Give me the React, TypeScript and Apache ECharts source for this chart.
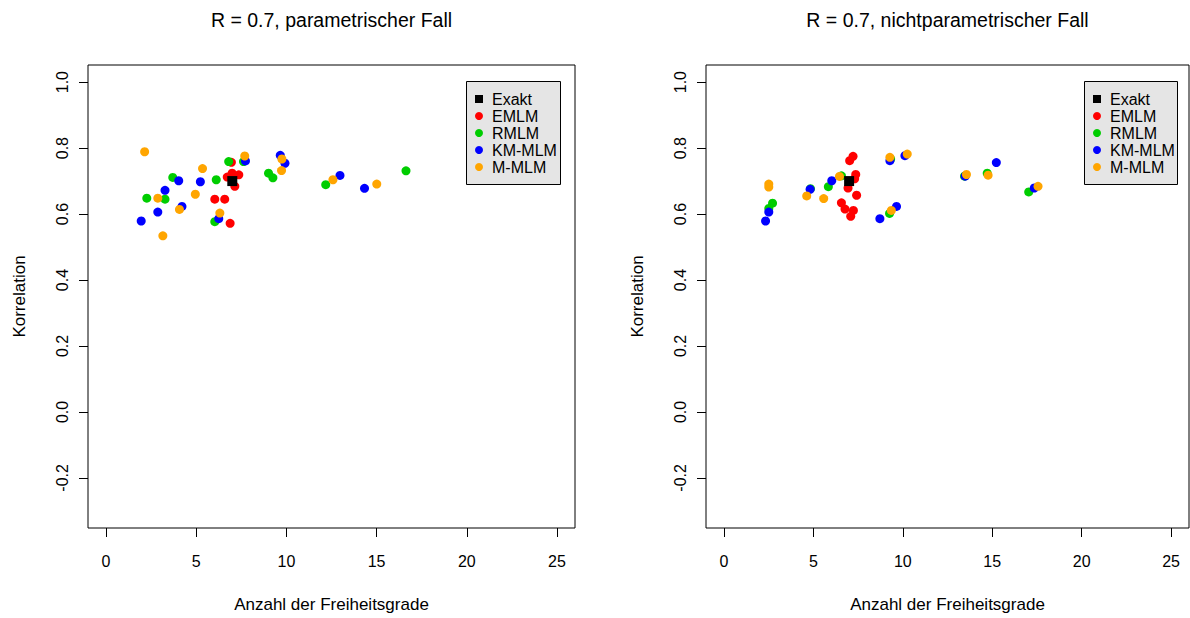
import React, { useEffect, useRef } from "react";
import * as echarts from "echarts";

// Methods and their colours (legend order)
const methodNames = ["Exakt", "EMLM", "RMLM", "KM-MLM", "M-MLM"];
const methodColors = ["#000000", "#FF0000", "#00CD00", "#0000FF", "#FFA500"];

const panelTitles = [
  "R = 0.7, parametrischer Fall",
  "R = 0.7, nichtparametrischer Fall",
];
const xTicks = [0, 5, 10, 15, 20, 25];
const yTicks = [-0.2, 0, 0.2, 0.4, 0.6, 0.8, 1.0];
const xLabel = "Anzahl der Freiheitsgrade";
const yLabel = "Korrelation";

// Exact reference point (degrees of freedom, correlation)
const exaktPoint = [[7, 0.7]];

// Parametric case: [degrees of freedom, correlation]
const paramEMLM = [
  [6.95, 0.757], [6.72, 0.712], [6.99, 0.724], [7.36, 0.719],
  [7.14, 0.684], [6.03, 0.645], [6.58, 0.645], [6.88, 0.572],
];
const paramRMLM = [
  [6.8, 0.759], [7.62, 0.759], [3.7, 0.711], [6.11, 0.704],
  [9.01, 0.724], [9.25, 0.71], [2.26, 0.648], [3.27, 0.645],
  [6.03, 0.577], [12.18, 0.689], [16.63, 0.731],
];
const paramKMMLM = [
  [7.73, 0.761], [4.03, 0.701], [5.23, 0.698], [3.27, 0.672],
  [4.21, 0.623], [2.87, 0.606], [6.25, 0.586], [1.95, 0.579],
  [9.66, 0.778], [9.92, 0.754], [12.97, 0.717], [14.33, 0.678],
];
const paramMMLM = [
  [2.14, 0.789], [7.69, 0.776], [5.35, 0.738], [2.87, 0.648],
  [4.95, 0.66], [4.07, 0.614], [6.31, 0.603], [3.15, 0.534],
  [9.75, 0.767], [9.73, 0.732], [12.58, 0.704], [15.01, 0.691],
];

// Nonparametric case: [degrees of freedom, correlation]
const nonparEMLM = [
  [7.22, 0.775], [7.03, 0.762], [7.37, 0.72], [7.31, 0.707],
  [6.94, 0.679], [7.42, 0.657], [6.57, 0.634], [6.77, 0.615],
  [7.24, 0.611], [7.09, 0.593],
];
const nonparRMLM = [
  [2.72, 0.633], [2.51, 0.617], [4.84, 0.677], [5.84, 0.683],
  [6.57, 0.716], [9.32, 0.767], [9.26, 0.602], [13.45, 0.715],
  [14.72, 0.724], [17.04, 0.667],
];
const nonparKMMLM = [
  [2.51, 0.606], [2.33, 0.579], [4.82, 0.675], [6.03, 0.701],
  [9.28, 0.762], [10.12, 0.777], [9.65, 0.623], [8.72, 0.586],
  [13.49, 0.715], [15.23, 0.756], [17.35, 0.679],
];
const nonparMMLM = [
  [2.51, 0.691], [2.51, 0.682], [4.63, 0.655], [5.58, 0.647],
  [6.46, 0.714], [9.28, 0.772], [10.25, 0.782], [9.36, 0.611],
  [13.56, 0.72], [14.77, 0.718], [17.56, 0.684],
];

const panelSeries = [
  [paramEMLM, paramRMLM, paramKMMLM, paramMMLM],
  [nonparEMLM, nonparRMLM, nonparKMMLM, nonparMMLM],
];

const FONT = "'Liberation Sans', Arial, Helvetica, sans-serif";

// Panel geometry
const panelLeft = [88, 706];
const panelWidth = [487, 483];
const panelTop = 65;
const panelHeight = 464;
const xRange = [-1, 26];
const yRange = [-0.352, 1.052];

const legendBoxes = [
  { x: 466, y: 81, w: 94, h: 103 },
  { x: 1084, y: 81, w: 93, h: 103 },
];

function buildLegend(box: { x: number; y: number; w: number; h: number }) {
  const children: any[] = [
    {
      type: "rect",
      shape: { x: box.x + 0.5, y: box.y + 0.5, width: box.w, height: box.h },
      style: { fill: "#E5E5E5", stroke: "#000", lineWidth: 1 },
    },
  ];
  methodNames.forEach((name, i) => {
    const cy = box.y + 18 + i * 17;
    const sx = box.x + 13;
    if (i === 0) {
      children.push({
        type: "rect",
        shape: { x: sx - 4, y: cy - 4, width: 8, height: 8 },
        style: { fill: methodColors[i] },
      });
    } else {
      children.push({
        type: "circle",
        shape: { cx: sx, cy, r: 4 },
        style: { fill: methodColors[i] },
      });
    }
    children.push({
      type: "text",
      x: box.x + 26,
      y: cy,
      style: {
        text: name,
        fill: "#000",
        font: `16px ${FONT}`,
        textAlign: "left",
        textVerticalAlign: "middle",
      },
    });
  });
  return { type: "group", children };
}

export default function App() {
  const ref = useRef<HTMLDivElement>(null);

  useEffect(() => {
    if (!ref.current) return;
    const chart = echarts.init(ref.current, undefined, { renderer: "svg" });

    const grids = panelLeft.map((left, i) => ({
      left,
      top: panelTop,
      width: panelWidth[i],
      height: panelHeight,
      show: true,
      borderColor: "#000",
      borderWidth: 1,
      backgroundColor: "transparent",
    }));

    const xAxes = panelLeft.map((_, i) => ({
      type: "value",
      gridIndex: i,
      min: xRange[0],
      max: xRange[1],
      axisLine: { show: false, onZero: false },
      splitLine: { show: false },
      axisTick: {
        show: true,
        length: 9,
        inside: false,
        customValues: xTicks,
        lineStyle: { color: "#000" },
      },
      axisLabel: {
        customValues: xTicks,
        margin: 25,
        color: "#000",
        fontSize: 16,
        fontFamily: FONT,
        formatter: (v: number) => String(v),
      },
      name: xLabel,
      nameLocation: "middle",
      nameGap: 68,
      nameTextStyle: { color: "#000", fontSize: 17, fontFamily: FONT },
    }));

    const yAxes = panelLeft.map((_, i) => ({
      type: "value",
      gridIndex: i,
      min: yRange[0],
      max: yRange[1],
      axisLine: { show: false, onZero: false },
      splitLine: { show: false },
      axisTick: {
        show: true,
        length: 9,
        inside: false,
        customValues: yTicks,
        lineStyle: { color: "#000" },
      },
      axisLabel: {
        customValues: yTicks,
        rotate: 90,
        margin: 18,
        color: "#000",
        fontSize: 16,
        fontFamily: FONT,
        formatter: (v: number) => v.toFixed(1),
      },
      name: yLabel,
      nameLocation: "middle",
      nameGap: 60,
      nameRotate: 90,
      nameTextStyle: { color: "#000", fontSize: 17, fontFamily: FONT },
    }));

    const series: any[] = [];
    panelSeries.forEach((sets, p) => {
      sets.forEach((data, k) => {
        series.push({
          type: "scatter",
          name: methodNames[k + 1],
          xAxisIndex: p,
          yAxisIndex: p,
          data,
          symbol: "circle",
          symbolSize: 9,
          itemStyle: { color: methodColors[k + 1], opacity: 1 },
          silent: true,
        });
      });
      series.push({
        type: "scatter",
        name: methodNames[0],
        xAxisIndex: p,
        yAxisIndex: p,
        data: exaktPoint,
        symbol: "rect",
        symbolSize: 10,
        itemStyle: { color: methodColors[0], opacity: 1 },
        silent: true,
        z: 3,
      });
    });

    const titleGraphics = panelTitles.map((text, i) => ({
      type: "text",
      x: panelLeft[i] + panelWidth[i] / 2,
      y: 20,
      style: {
        text,
        fill: "#000",
        font: `19.5px ${FONT}`,
        textAlign: "center",
        textVerticalAlign: "middle",
      },
    }));

    chart.setOption({
      animation: false,
      backgroundColor: "#fff",
      grid: grids,
      xAxis: xAxes,
      yAxis: yAxes,
      series,
      graphic: [...titleGraphics, ...legendBoxes.map(buildLegend)],
    });

    return () => chart.dispose();
  }, []);

  return (
    <div
      ref={ref}
      style={{ position: "fixed", left: 0, top: 0, width: 1190, height: 618, background: "#fff" }}
    />
  );
}
